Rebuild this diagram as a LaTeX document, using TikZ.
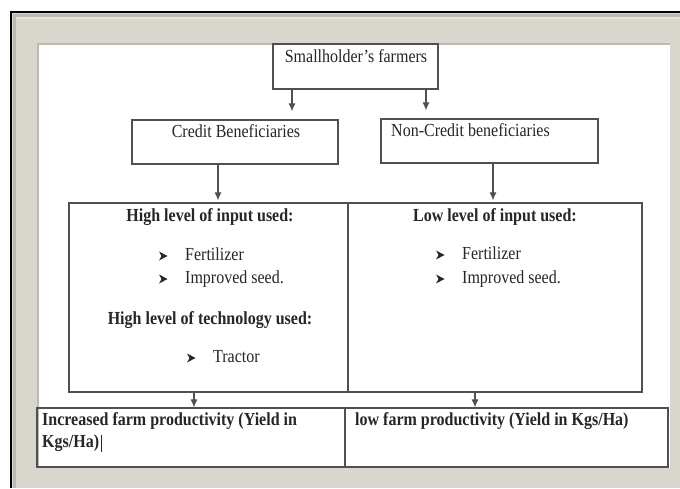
\documentclass[tikz,border=0pt]{standalone}
\usepackage{fontspec}
\setmainfont{Liberation Serif}
\usetikzlibrary{arrows.meta}
\definecolor{frameg}{HTML}{D9D6CE}
\definecolor{frameshade}{HTML}{BDBAB2}
\definecolor{linec}{HTML}{505050}
\definecolor{txtc}{HTML}{262626}
\newcommand\tx[1]{\scalebox{1}[1.15]{#1}}
\tikzset{
  box/.style={draw=linec, line width=1.3pt, rectangle, inner sep=0pt},
  lbl/.style={text=txtc, font=\fontsize{16}{19}\selectfont, inner sep=0pt},
  blbl/.style={lbl, font=\fontsize{16}{19}\selectfont\bfseries},
  arr/.style={draw=linec, line width=1.1pt, -{Latex[length=8pt,width=7pt]}},
  arrbullet/.pic={\fill[txtc] (-4,-4.5) -- (4.5,0) -- (-4,4.5) -- (-1.5,0) -- cycle;},
}
\begin{document}
\begin{tikzpicture}[x=1pt,y=-1pt]
\useasboundingbox (0,0) rectangle (680,488);
\fill[white] (0,0) rectangle (680,488);
% frame
\fill[frameg] (11,12) rectangle (680,488);
\fill[frameshade] (13,14) rectangle (680,17);
\fill[frameshade] (13,14) rectangle (16,488);
\fill[frameg!70!white] (16,17) rectangle (680,19);
\draw[black, line width=1.5pt] (680,12) -- (11,12) -- (11,488);
% white page with inner shadow
\fill[white] (37,43) rectangle (670,468);
\fill[frameshade] (37,43) rectangle (670,45);
\fill[frameshade] (37,43) rectangle (39,468);

% boxes
\node[box, minimum width=165pt, minimum height=45pt] (sh) at (355.5,66.5) {};
\node[box, minimum width=206pt, minimum height=44pt] (cb) at (235,142) {};
\node[box, minimum width=217pt, minimum height=44pt] (ncb) at (489.5,141) {};
\node[box, minimum width=573pt, minimum height=189pt] (big) at (355.5,297.5) {};
\node[box, minimum width=631pt, minimum height=59pt] (bot) at (352.5,437.5) {};
\draw[linec, line width=1.3pt] (348,203) -- (348,392);
\draw[linec, line width=1.3pt] (345,408) -- (345,467);

% texts
\node[lbl, anchor=mid] (tsh) at (356,60) {\tx{Smallholder’s farmers}};
\node[lbl, anchor=mid] (tcb) at (236,135) {\tx{Credit Beneficiaries}};
\node[lbl, anchor=mid west] (tncb) at (391,134) {\tx{Non-Credit beneficiaries}};

\node[blbl, anchor=mid] (h1) at (210,219) {\tx{High level of input used:}};
\pic at (163,256) {arrbullet};
\node[lbl, anchor=mid west] (f1) at (185,258) {\tx{Fertilizer}};
\pic at (163,279) {arrbullet};
\node[lbl, anchor=mid west] (s1) at (185,281) {\tx{Improved seed.}};
\node[blbl, anchor=mid] (h2) at (210,322) {\tx{High level of technology used:}};
\pic at (191,358) {arrbullet};
\node[lbl, anchor=mid west] (tr) at (213,360) {\tx{Tractor}};

\node[blbl, anchor=mid] (h3) at (495,219) {\tx{Low level of input used:}};
\pic at (440,255) {arrbullet};
\node[lbl, anchor=mid west] (f2) at (462,257) {\tx{Fertilizer}};
\pic at (440,279) {arrbullet};
\node[lbl, anchor=mid west] (s2) at (462,281) {\tx{Improved seed.}};

\node[blbl, anchor=mid west] (ip1) at (42,423) {\tx{Increased farm productivity (Yield in}};
\node[blbl, anchor=mid west] (ip2) at (42,445) {\tx{Kgs/Ha)}};
\draw[txtc, line width=0.8pt] (ip2.east) ++(2,-8) -- ++(0,17);
\node[blbl, anchor=mid west] (lp) at (355,423) {\tx{low farm productivity (Yield in Kgs/Ha)}};

% connectors
\draw[arr, shorten >=8pt] (sh.south -| 292,0) -- (cb.north -| 292,0);
\draw[arr, shorten >=8pt] (sh.south -| 426,0) -- (ncb.north -| 426,0);
\draw[arr, shorten >=2pt] (cb.south -| 218,0) -- (big.north -| 218,0);
\draw[arr, shorten >=2pt] (ncb.south -| 493,0) -- (big.north -| 493,0);
\draw[arr] (big.south -| 194,0) -- (bot.north -| 194,0);
\draw[arr] (big.south -| 475,0) -- (bot.north -| 475,0);
\end{tikzpicture}
\end{document}
